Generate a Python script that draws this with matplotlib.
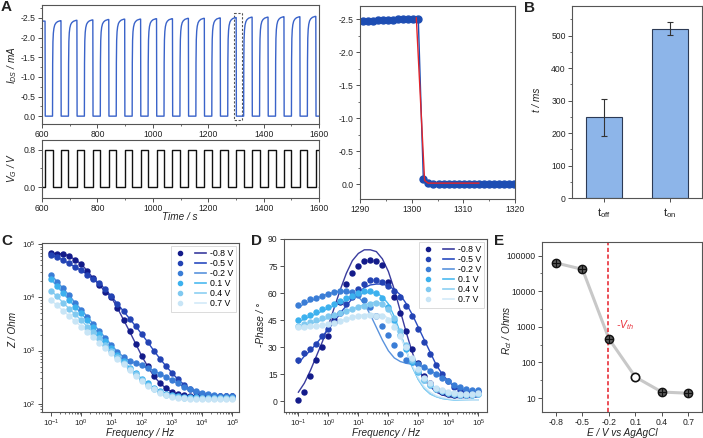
import numpy as np
import matplotlib
matplotlib.use('Agg')
import matplotlib.pyplot as plt
from matplotlib.lines import Line2D
from matplotlib.legend_handler import HandlerTuple
from matplotlib.patches import Rectangle
from matplotlib.ticker import (MultipleLocator, NullFormatter, FixedLocator,
                               FormatStrFormatter, LogFormatterSciNotation)

plt.rcParams.update({
    'font.family': ['Liberation Sans', 'DejaVu Sans'],
    'font.size': 7,
    'xtick.labelsize': 6.2, 'ytick.labelsize': 6.2,
    'xtick.major.size': 3, 'ytick.major.size': 3,
    'xtick.minor.size': 1.6, 'ytick.minor.size': 1.6,
    'xtick.major.width': 0.6, 'ytick.major.width': 0.6,
    'xtick.minor.width': 0.5, 'ytick.minor.width': 0.5,
    'mathtext.fontset': 'custom',
    'mathtext.rm': 'Liberation Sans',
    'mathtext.it': 'Liberation Sans:italic',
    'mathtext.bf': 'Liberation Sans:bold',
})

# ---------------- data: panel A ----------------
off_times = [611, 668.5, 726, 783.5, 841, 898.5, 956, 1013.5, 1071, 1128.5,
             1186, 1243.5, 1301, 1358.5, 1416, 1473.5, 1531, 1588.5]
on_times = [638, 695.5, 753, 810.5, 868, 925.5, 983, 1040.5, 1098, 1155.5,
            1213, 1270.5, 1328, 1385.5, 1443, 1500.5, 1558, 1615.5]
peak_current = [-2.42, -2.43, -2.44, -2.45, -2.46, -2.47, -2.47, -2.48, -2.48,
                -2.49, -2.49, -2.50, -2.51, -2.52, -2.52, -2.53, -2.53, -2.54]
rise_t = [0, 0.5, 1.5, 3, 5, 8, 12, 18, 28]
rise_frac = [0, 0.55, 0.78, 0.87, 0.92, 0.955, 0.975, 0.99, 1.0]
gate_high = 0.8
gate_low = 0.0

zoom_current = [-2.47, -2.475, -2.48, -2.485, -2.49, -2.49, -2.495, -2.50, -2.50,
                -2.505, -2.51, -2.51, -0.08, -0.015, -0.01, -0.01, -0.01, -0.01,
                -0.01, -0.01, -0.01, -0.01, -0.01, -0.01, -0.01, -0.01, -0.01,
                -0.01, -0.01, -0.01, -0.01]
fit_t = [1300.9, 1302.5, 1303.2, 1313.0]
fit_i = [-2.52, -0.06, -0.02, -0.02]

# ---------------- data: panel B ----------------
b_labels = [r'$\mathregular{t_{off}}$', r'$\mathregular{t_{on}}$']
b_values = [248, 521]
b_err = [57, 20]

# ---------------- data: panels C / D ----------------
freq = [0.1, 0.158, 0.251, 0.398, 0.631, 1.0, 1.58, 2.51, 3.98, 6.31, 10, 15.8,
        25.1, 39.8, 63.1, 100, 158, 251, 398, 631, 1000, 1580, 2510, 3980, 6310,
        10000, 15800, 25100, 39800, 63100, 100000]
freq_ticks = [0.1, 1, 10, 100, 1000, 10000, 100000]
z_ticks = [100, 1000, 10000, 100000]
series_labels = ['-0.8 V', '-0.5 V', '-0.2 V', '0.1 V', '0.4 V', '0.7 V']
series_colors = ['#131b8a', '#2343b4', '#3a7dd6', '#3cb1ee', '#80c9f0', '#c8e5f6']
line_colors = ['#3a3c9e', '#2a4cc0', '#5a93dd', '#4cbaf0', '#8ccff2', '#d3eaf8']

logz_m08 = [4.84, 4.82, 4.82, 4.78, 4.71, 4.63, 4.50, 4.36, 4.23, 4.11, 4.00, 3.80,
            3.58, 3.36, 3.13, 2.90, 2.70, 2.52, 2.39, 2.29, 2.22, 2.18, 2.16, 2.15,
            2.15, 2.14, 2.14, 2.14, 2.14, 2.14, 2.14]
logz_m05 = [4.79, 4.76, 4.70, 4.64, 4.57, 4.51, 4.43, 4.35, 4.27, 4.15, 4.02, 3.88,
            3.74, 3.60, 3.46, 3.31, 3.16, 3.00, 2.85, 2.71, 2.58, 2.46, 2.36, 2.28,
            2.22, 2.18, 2.16, 2.15, 2.14, 2.14, 2.14]
logz_m02 = [4.43, 4.30, 4.17, 4.04, 3.90, 3.77, 3.64, 3.50, 3.37, 3.24, 3.10, 2.98,
            2.88, 2.81, 2.76, 2.72, 2.67, 2.62, 2.56, 2.50, 2.44, 2.38, 2.32, 2.27,
            2.23, 2.20, 2.18, 2.16, 2.15, 2.14, 2.14]
logz_p01 = [4.34, 4.21, 4.08, 3.95, 3.82, 3.70, 3.57, 3.44, 3.31, 3.18, 3.05, 2.92,
            2.80, 2.68, 2.57, 2.47, 2.38, 2.30, 2.24, 2.19, 2.16, 2.14, 2.13, 2.12,
            2.12, 2.11, 2.11, 2.11, 2.11, 2.11, 2.11]
logz_p04 = [4.13, 4.02, 3.90, 3.79, 3.68, 3.57, 3.45, 3.34, 3.23, 3.11, 3.00, 2.88,
            2.77, 2.66, 2.55, 2.45, 2.36, 2.28, 2.22, 2.17, 2.14, 2.12, 2.11, 2.10,
            2.10, 2.10, 2.10, 2.10, 2.10, 2.10, 2.10]
logz_p07 = [3.95, 3.85, 3.75, 3.65, 3.55, 3.45, 3.35, 3.25, 3.15, 3.05, 2.95, 2.84,
            2.74, 2.63, 2.53, 2.43, 2.34, 2.27, 2.21, 2.16, 2.13, 2.11, 2.10, 2.09,
            2.09, 2.09, 2.09, 2.09, 2.09, 2.09, 2.09]

ph_m08 = [0.5, 5, 14, 23, 30, 36, 45, 55, 65, 71, 75, 78, 78.5, 78, 75.5, 66, 58,
          49, 39, 29, 21, 14, 10, 7, 5, 4, 3.5, 3.5, 3.5, 4, 5]
ph_m05 = [23, 26.5, 29, 32, 36, 40, 44, 49, 54, 58, 62, 65, 67, 67, 66, 64, 61, 58,
          53, 47, 40, 33, 26, 20, 15, 11, 8, 6, 5, 5, 5]
ph_m02 = [53.5, 55, 56.5, 57.5, 58.5, 59.5, 60.5, 61, 61, 60.5, 59, 56, 52, 47, 42,
          36.5, 31, 26, 23, 21.5, 20.5, 19, 17, 15, 13, 11, 9, 8, 7, 6, 6]
ph_p01 = [45, 46.5, 48, 49.5, 51, 52.5, 54, 55.5, 57, 58.5, 60, 61, 61, 60, 57, 52,
          45, 37, 29, 22, 16, 12, 9, 7, 5.5, 4.5, 4, 3.5, 3.5, 3.5, 4]
ph_p04 = [42, 43, 44, 45, 46, 47, 48, 49, 50, 51, 52, 53, 54, 54.5, 54, 51, 46, 39,
          31, 23, 17, 12, 9, 7, 5.5, 4.5, 4, 3.5, 3.5, 3.5, 4]
ph_p07 = [41, 41, 41.5, 42, 42.5, 43, 43.5, 44.5, 45.5, 46.5, 47, 47.5, 48, 47.5, 47,
          45, 41, 36, 30, 24, 18, 13, 10, 7.5, 6, 5, 4.5, 4, 4, 4, 4.5]

phfit_m08 = [5, 10, 17, 25, 33, 42, 52, 62, 71, 78, 82, 84, 84, 83, 79, 72, 62, 50,
             38, 27, 18, 12, 8, 5, 3.5, 2.5, 2, 2, 2, 2, 2.5]
phfit_m05 = [21, 25, 28, 32, 36, 40, 44, 49, 53, 57, 60, 63, 64.5, 65, 65, 64, 62,
             59, 54, 48, 41, 34, 27, 20, 15, 11, 8, 6, 4.5, 3.5, 3]
phfit_m02 = [52, 54, 55.5, 57, 58.5, 59.5, 60.5, 61, 61, 60, 58, 54, 48, 41, 34, 28,
             24, 22, 21, 20.5, 20, 19, 17, 15, 13, 11, 9, 7.5, 6, 5, 4.5]
phfit_p01 = [44, 45.5, 47, 48.5, 50, 51.5, 53, 54.5, 56, 57.5, 59, 60, 60.5, 60, 58,
             54, 47, 38, 28, 19, 12, 7, 4, 2.5, 1.5, 1, 0.7, 0.5, 0.5, 0.5, 0.5]
phfit_p04 = [41, 42, 43, 44, 45, 46, 47.5, 48.5, 50, 51, 52.5, 53.5, 54.5, 55, 54, 51,
             45, 37, 28, 19, 12, 7, 4, 2.5, 1.5, 1, 0.8, 0.6, 0.5, 0.5, 0.5]
phfit_p07 = [40, 40.5, 41, 41.5, 42, 42.5, 43.5, 44.5, 45.5, 46.5, 47.5, 48, 48.5,
             48.5, 48, 46, 42, 36, 28, 20, 13, 8, 5, 3, 2, 1.5, 1, 0.8, 0.7, 0.6, 0.6]

# ---------------- data: panel E ----------------
e_potential = [-0.8, -0.5, -0.2, 0.1, 0.4, 0.7]
e_ticklabels = ['-0.8', '-0.5', '-0.2', '0.1', '0.4', '0.7']
e_rct = [62000, 41000, 460, 39, 14.8, 13.7]
e_open = [False, False, False, True, False, False]
v_th = -0.21

# ---------------- figure layout ----------------
W, H = 703, 438
fig = plt.figure(figsize=(W / 100, H / 100), dpi=100)


def rect(l, t, r, b):
    return [l / W, 1 - b / H, (r - l) / W, (b - t) / H]


def ftext(x, y, s, **kw):
    fig.text(x / W, 1 - y / H, s, **kw)


def style(ax):
    ax.tick_params(which='both', direction='out', top=False, right=False,
                   colors='#333333', labelcolor='#222222', pad=1.5)
    for s in ax.spines.values():
        s.set_color('#555555')
        s.set_linewidth(0.8)


def minor_log(lo, hi):
    out = []
    for d in range(lo, hi):
        for m in range(2, 10):
            out.append(m * 10.0 ** d)
    return out


# ---- A top: drain current ----
ax1 = fig.add_axes(rect(42, 5, 319, 124))
t_list, i_list = [600], [peak_current[0]]
for k, toff in enumerate(off_times):
    t_list += [toff, toff + 0.7]
    i_list += [peak_current[k], 0.0]
    if k + 1 < len(peak_current):
        ton = on_times[k]
        t_list.append(ton)
        i_list.append(0.0)
        for rt, rf in zip(rise_t, rise_frac):
            t_list.append(ton + rt)
            i_list.append(peak_current[k + 1] * rf)
t_list.append(1600)
i_list.append(i_list[-1])
ax1.plot(t_list, i_list, color='#3a63c9', lw=1.0)
ax1.set_xlim(600, 1600)
ax1.set_ylim(0.2, -2.83)
ax1.xaxis.set_major_locator(MultipleLocator(200))
ax1.xaxis.set_minor_locator(MultipleLocator(100))
ax1.yaxis.set_major_locator(MultipleLocator(0.5))
ax1.yaxis.set_minor_locator(MultipleLocator(0.25))
ax1.yaxis.set_major_formatter(FormatStrFormatter('%.1f'))
ax1.add_patch(Rectangle((1293, -2.62), 29, 2.73, fill=False, ls=(0, (2, 1.5)),
                        lw=0.8, ec='#555555'))
style(ax1)

# ---- A bottom: gate voltage ----
ax2 = fig.add_axes(rect(42, 140, 319, 198))
vt, vv = [600], [gate_low]
for k, toff in enumerate(off_times):
    vt += [toff, toff, on_times[k], on_times[k]]
    vv += [gate_low, gate_high, gate_high, gate_low]
vt.append(1600)
vv.append(vv[-1])
ax2.plot(vt, vv, color='#111111', lw=1.0)
ax2.set_xlim(600, 1600)
ax2.set_ylim(-0.235, 1.01)
ax2.xaxis.set_major_locator(MultipleLocator(200))
ax2.xaxis.set_minor_locator(MultipleLocator(100))
ax2.set_yticks([0.0, 0.8])
ax2.yaxis.set_minor_locator(FixedLocator([0.4]))
ax2.yaxis.set_major_formatter(FormatStrFormatter('%.1f'))
style(ax2)

# ---- A right: zoom ----
ax3 = fig.add_axes(rect(360, 6, 515, 199))
zt = 1290.5 + 0.98 * np.arange(len(zoom_current))
ax3.plot(zt, zoom_current, color='#1d4db3', lw=1.0, marker='o', ms=5,
         mfc='#1d4db3', mec='#1d4db3')
ax3.plot(fit_t, fit_i, color='#e3242b', lw=1.0)
ax3.set_xlim(1290, 1320)
ax3.set_ylim(0.22, -2.70)
ax3.xaxis.set_major_locator(MultipleLocator(10))
ax3.xaxis.set_minor_locator(MultipleLocator(5))
ax3.yaxis.set_major_locator(MultipleLocator(0.5))
ax3.yaxis.set_minor_locator(MultipleLocator(0.25))
ax3.yaxis.set_major_formatter(FormatStrFormatter('%.1f'))
style(ax3)

# ---- B: bars ----
axb = fig.add_axes(rect(572, 6, 702, 198))
bx = [1, 2]
axb.bar(bx, b_values, width=0.55, color='#8db5e9', edgecolor='#2c3a55', lw=0.8)
axb.errorbar(bx, b_values, yerr=b_err, fmt='none', ecolor='#333333', elinewidth=0.8,
             capsize=2, capthick=0.8)
axb.set_xlim(0.514, 2.486)
axb.set_ylim(0, 591)
axb.set_xticks(bx)
axb.set_xticklabels(b_labels, fontsize=8)
axb.yaxis.set_major_locator(MultipleLocator(100))
axb.yaxis.set_minor_locator(MultipleLocator(50))
style(axb)
axb.tick_params(axis='x', pad=3)

leg_kw = dict(handler_map={tuple: HandlerTuple(ndivide=None, pad=1.0)},
              loc='upper right', fontsize=6.3, handlelength=3.6, handletextpad=0.4,
              labelspacing=0.12, borderpad=0.4, borderaxespad=0.3, frameon=True,
              fancybox=False)

# ---- C: |Z| ----
zs = [logz_m08, logz_m05, logz_m02, logz_p01, logz_p04, logz_p07]
axc = fig.add_axes(rect(42, 243, 239, 412))
handles = []
for lz, lab, mc, lc in zip(zs, series_labels, series_colors, line_colors):
    zv = [10 ** v for v in lz]
    axc.plot(freq, zv, color=lc, lw=1.0, zorder=2)
    axc.plot(freq, zv, ls='none', marker='o', ms=3.6, mfc=mc, mec=mc, zorder=3)
    handles.append((Line2D([], [], ls='none', marker='o', ms=3.0, mfc=mc, mec=mc),
                    Line2D([], [], color=lc, lw=1.2)))
axc.set_xscale('log')
axc.set_yscale('log')
axc.set_xlim(10 ** -1.298, 10 ** 5.22)
axc.set_ylim(10 ** 1.843, 10 ** 5.025)
axc.xaxis.set_major_locator(FixedLocator(freq_ticks))
axc.xaxis.set_minor_locator(FixedLocator(minor_log(-1, 5)))
axc.yaxis.set_major_locator(FixedLocator(z_ticks))
axc.yaxis.set_minor_locator(FixedLocator(minor_log(1, 5)))
axc.xaxis.set_major_formatter(LogFormatterSciNotation())
axc.yaxis.set_major_formatter(LogFormatterSciNotation())
axc.xaxis.set_minor_formatter(NullFormatter())
axc.yaxis.set_minor_formatter(NullFormatter())
style(axc)
axc.tick_params(labelsize=5.6)
axc.tick_params(axis='x', pad=1.0)
legc = axc.legend(handles, series_labels, **leg_kw)
legc.get_frame().set_edgecolor('#cccccc')
legc.get_frame().set_linewidth(0.6)

# ---- D: phase ----
phs = [ph_m08, ph_m05, ph_m02, ph_p01, ph_p04, ph_p07]
phf = [phfit_m08, phfit_m05, phfit_m02, phfit_p01, phfit_p04, phfit_p07]
axd = fig.add_axes(rect(284, 239, 487, 412))
handles_d = []
for p, pf, lab, mc, lc in zip(phs, phf, series_labels, series_colors, line_colors):
    axd.plot(freq, pf, color=lc, lw=1.0, zorder=2)
    axd.plot(freq, p, ls='none', marker='o', ms=3.6, mfc=mc, mec=mc, zorder=3)
    handles_d.append((Line2D([], [], ls='none', marker='o', ms=3.0, mfc=mc, mec=mc),
                      Line2D([], [], color=lc, lw=1.2)))
axd.set_xscale('log')
axd.set_xlim(10 ** -1.48, 10 ** 5.29)
axd.set_ylim(-6, 90)
axd.yaxis.set_major_locator(MultipleLocator(15))
axd.xaxis.set_major_locator(FixedLocator(freq_ticks))
axd.xaxis.set_minor_locator(FixedLocator(minor_log(-2, 5)))
axd.xaxis.set_major_formatter(LogFormatterSciNotation())
axd.xaxis.set_minor_formatter(NullFormatter())
style(axd)
axd.tick_params(axis='x', labelsize=5.6, pad=1.0)
legd = axd.legend(handles_d, series_labels, **leg_kw)
legd.get_frame().set_edgecolor('#cccccc')
legd.get_frame().set_linewidth(0.6)

# ---- E: Rct ----
axe = fig.add_axes(rect(542, 242, 702, 412))
axe.plot(e_potential, e_rct, color='#c8c8c8', lw=2.2, zorder=1)
for x, y, op in zip(e_potential, e_rct, e_open):
    if op:
        axe.plot(x, y, marker='o', ms=6, mfc='white', mec='#111111', mew=1.2, zorder=3)
    else:
        axe.plot(x, y, marker='o', ms=6, mfc='#5a5a5a', mec='#111111', mew=1.0, zorder=3)
        axe.plot(x, y, marker='+', ms=6, mec='#111111', mew=0.8, zorder=4)
axe.axvline(v_th, color='#e8303a', ls=(0, (2.5, 1.5)), lw=1.2, zorder=2)
axe.text(-0.12, 1150, r'-$V_{th}$', color='#e8303a', fontsize=7.5, style='italic',
         ha='left', va='center')
axe.set_yscale('log')
axe.set_xlim(-0.959, 0.855)
axe.set_ylim(10 ** 0.61, 10 ** 5.38)
axe.set_xticks(e_potential)
axe.set_xticklabels(e_ticklabels)
axe.yaxis.set_major_locator(FixedLocator([10, 100, 1000, 10000, 100000]))
axe.yaxis.set_major_formatter(FormatStrFormatter('%d'))
axe.yaxis.set_minor_locator(FixedLocator([10 ** (k + 0.5) for k in range(0, 5)]))
axe.yaxis.set_minor_formatter(NullFormatter())
style(axe)

# ---- labels ----
lab_kw = dict(fontsize=7.2, style='italic', color='#222222')
ftext(12, 65, r'$I_{DS}$ / mA', rotation=90, ha='center', va='center', **lab_kw)
ftext(12, 168, r'$V_{G}$ / V', rotation=90, ha='center', va='center', **lab_kw)
ftext(180, 217, 'Time / s', ha='center', va='center', **lab_kw)
ftext(537, 100, 't / ms', rotation=90, ha='center', va='center', **lab_kw)
ftext(13, 330, 'Z / Ohm', rotation=90, ha='center', va='center', **lab_kw)
ftext(140, 433.5, 'Frequency / Hz', ha='center', va='center', **lab_kw)
ftext(261, 325, '-Phase / \u00b0', rotation=90, ha='center', va='center', **lab_kw)
ftext(386, 433.5, 'Frequency / Hz', ha='center', va='center', **lab_kw)
ftext(507, 330, r'$R_{ct}$ / Ohms', rotation=90, ha='center', va='center', **lab_kw)
ftext(622, 433.5, 'E / V vs AgAgCl', ha='center', va='center', **lab_kw)

pl_kw = dict(fontsize=11, fontweight='bold', color='#222222', ha='left', va='center')
ftext(1, 7, 'A', **pl_kw)
ftext(524, 8, 'B', **pl_kw)
ftext(1, 241, 'C', **pl_kw)
ftext(251, 241, 'D', **pl_kw)
ftext(494, 241, 'E', **pl_kw)

fig.savefig('out.png', dpi=100)
